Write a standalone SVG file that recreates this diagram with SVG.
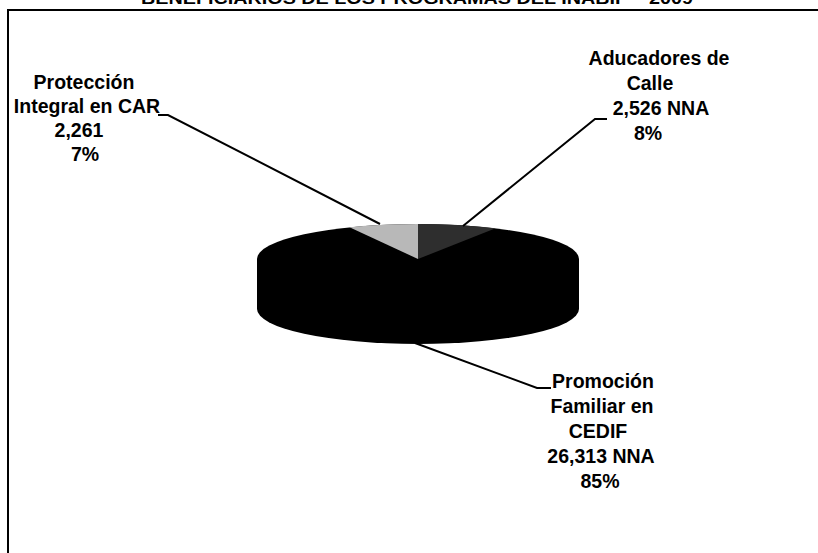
<svg xmlns="http://www.w3.org/2000/svg" width="818" height="553" viewBox="0 0 818 553">
  <style>
    .lbl { font-family: "Liberation Sans", Arial, sans-serif; font-weight: bold; font-size: 19.5px; fill: #000; text-anchor: middle; }
    .title { font-family: "Liberation Sans", Arial, sans-serif; font-weight: bold; font-size: 17px; fill: #000; text-anchor: middle; }
    .lead { fill: none; stroke: #000; stroke-width: 2; stroke-linejoin: miter; }
    .frame { fill: none; stroke: #000; stroke-width: 2; }
  </style>
  <rect x="0" y="0" width="818" height="553" fill="#fff"/>
  <text class="title" x="417" y="4" textLength="552" lengthAdjust="spacingAndGlyphs">BENEFICIARIOS DE LOS PROGRAMAS DEL INABIF – 2009</text>
  <path class="frame" d="M8,553 L8,10 L818,10"/>

  <g id="pie">
    <g id="slice-promocion">
      <ellipse cx="418" cy="309" rx="161" ry="35" fill="#000"/>
      <rect x="257" y="259" width="322" height="50" fill="#000"/>
      <ellipse cx="418" cy="259" rx="161" ry="35" fill="#000"/>
    </g>
    <g id="slice-proteccion">
      <path d="M418,259 L418,224 A161 35 0 0 0 349.5,227.3 Z" fill="#b8b8b8"/>
    </g>
    <g id="slice-aducadores">
      <path d="M418,259 L418,224 A161 35 0 0 1 495.6,228.3 Z" fill="#2e2e2e"/>
    </g>
  </g>

  <g id="connectors">
    <polyline class="lead" points="158,115 168,115 380,224"/>
    <polyline class="lead" points="607,119 595,119 463,226"/>
    <polyline class="lead" points="415,343 537,388 551,388"/>
  </g>

  <g id="label-proteccion">
    <text class="lbl" x="84" y="89">Protección</text>
    <text class="lbl" x="87" y="113">Integral en CAR</text>
    <text class="lbl" x="79" y="137">2,261</text>
    <text class="lbl" x="85" y="161">7%</text>
  </g>
  <g id="label-aducadores">
    <text class="lbl" x="659" y="65">Aducadores de</text>
    <text class="lbl" x="650" y="90">Calle</text>
    <text class="lbl" x="661" y="115">2,526 NNA</text>
    <text class="lbl" x="648" y="140">8%</text>
  </g>
  <g id="label-promocion">
    <text class="lbl" x="603" y="388">Promoción</text>
    <text class="lbl" x="602" y="413">Familiar en</text>
    <text class="lbl" x="598" y="438">CEDIF</text>
    <text class="lbl" x="601" y="463">26,313 NNA</text>
    <text class="lbl" x="600" y="488">85%</text>
  </g>
</svg>
